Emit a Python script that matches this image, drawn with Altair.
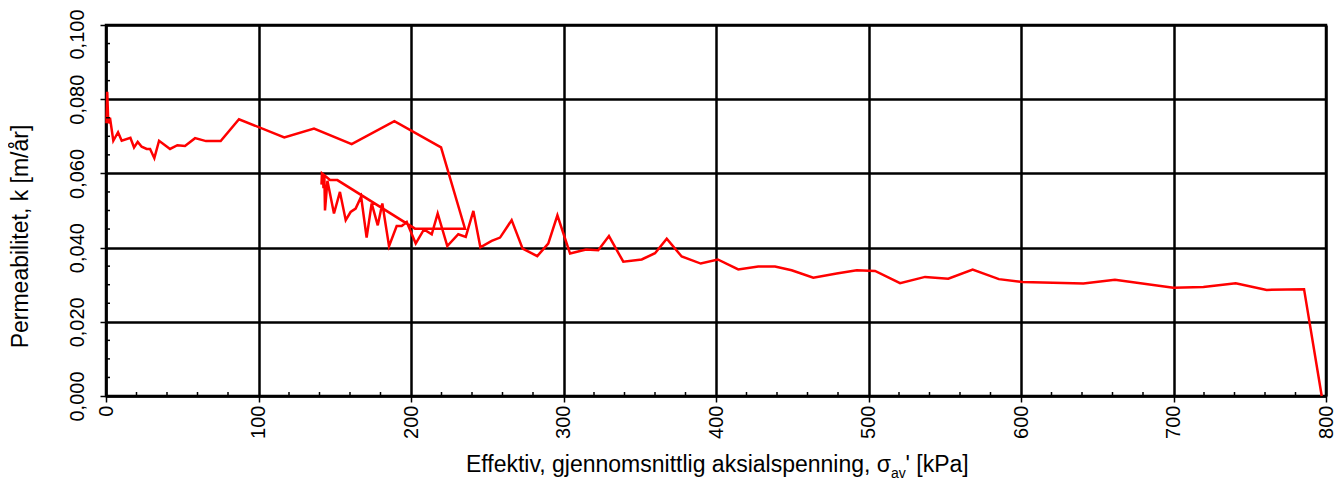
import altair as alt
import pandas as pd

# Effective mean axial stress [kPa] and permeability k [m/år], in measurement order
stress = [0.3, 0.8, 1.5, 2.6, 4.8, 7.9, 10.3, 16.0, 18.4, 20.8, 23.4, 26.7, 28.9, 31.7,
          34.8, 42.0, 46.8, 51.8, 58.4, 65.6, 75.2, 87.2, 116.9, 136.4, 161.1, 189.1,
          219.7, 235.4, 202.6, 151.7, 146.9, 141.6, 141.3, 142.2, 142.6, 143.2, 143.6,
          145.2, 149.5, 153.4, 157.2, 160.4, 163.7, 167.3, 170.9, 174.2, 178.2, 181.2,
          185.6, 190.6, 193.9, 197.2, 203.1, 208.5, 213.6, 217.5, 223.8, 231.0, 235.9,
          240.9, 245.5, 252.9, 258.4, 266.0, 273.2, 282.8, 290.0, 296.0, 304.3, 314.8,
          322.8, 329.8, 339.2, 351.3, 360.0, 367.7, 377.5, 390.0, 401.2, 414.6, 427.7,
          438.7, 449.6, 463.8, 479.1, 492.3, 504.3, 520.7, 537.1, 552.3, 568.3, 585.5,
          601.0, 640.9, 661.6, 699.9, 719.6, 740.8, 761.1, 785.6, 797.2]
perm = [0.0735, 0.0820, 0.0735, 0.0750, 0.0688, 0.0711, 0.0688, 0.0696, 0.0670, 0.0685,
        0.0672, 0.0666, 0.0666, 0.0641, 0.0688, 0.0666, 0.0676, 0.0674, 0.0695, 0.0687,
        0.0687, 0.0746, 0.0697, 0.0721, 0.0679, 0.0741, 0.0670, 0.0451, 0.0451, 0.0582,
        0.0582, 0.0600, 0.0570, 0.0600, 0.0560, 0.0590, 0.0500, 0.0580, 0.0492, 0.0550,
        0.0474, 0.0496, 0.0505, 0.0537, 0.0427, 0.0519, 0.0460, 0.0519, 0.0404, 0.0458,
        0.0458, 0.0469, 0.0411, 0.0449, 0.0436, 0.0492, 0.0404, 0.0436, 0.0429, 0.0499,
        0.0401, 0.0418, 0.0427, 0.0474, 0.0397, 0.0377, 0.0411, 0.0487, 0.0384, 0.0395,
        0.0393, 0.0431, 0.0362, 0.0368, 0.0385, 0.0424, 0.0376, 0.0357, 0.0368, 0.0341,
        0.0349, 0.0349, 0.0339, 0.0319, 0.0330, 0.0339, 0.0337, 0.0304, 0.0321, 0.0316,
        0.0341, 0.0315, 0.0307, 0.0303, 0.0313, 0.0292, 0.0294, 0.0304, 0.0286, 0.0288,
        0.0000]

x_major = [0, 100, 200, 300, 400, 500, 600, 700, 800]
y_major = [0.0, 0.02, 0.04, 0.06, 0.08, 0.10]
x_minor = [20, 40, 60, 80, 120, 140, 160, 180, 220, 240, 260, 280, 320, 340, 360, 380,
           420, 440, 460, 480, 520, 540, 560, 580, 620, 640, 660, 680, 720, 740, 760, 780]
y_minor = [0.005, 0.01, 0.015, 0.025, 0.03, 0.035, 0.045, 0.05, 0.055, 0.065, 0.07,
           0.075, 0.085, 0.09, 0.095]

y_title = "Permeabilitet, k [m/år]"
x_title_main = "Effektiv, gjennomsnittlig aksialspenning, σ"
x_title_sub = "av"
x_title_end = "' [kPa]"

W, H = 1220, 371
FONT = "Arial, Liberation Sans, sans-serif"

df = pd.DataFrame({"s": stress, "k": perm, "i": list(range(len(stress)))})

xs = alt.Scale(domain=[0, 800], nice=False, zero=False)
ys = alt.Scale(domain=[0, 0.1], nice=False, zero=False)

x_axis = alt.Axis(values=x_major, title=None, grid=True, gridColor="black", gridWidth=2.5,
                  gridOpacity=1, domainColor="black", domainWidth=2, tickColor="black",
                  tickWidth=1.5, tickSize=6, labelAngle=270, labelAlign="right",
                  labelBaseline="middle", labelFont=FONT, labelFontSize=20,
                  labelColor="black", labelPadding=3, labelFlush=False, labelOverlap=False,
                  labelBound=False)
y_axis = alt.Axis(values=y_major, title=y_title, grid=True, gridColor="black", gridWidth=2.5,
                  gridOpacity=1, domainColor="black", domainWidth=2, tickColor="black",
                  tickWidth=1.5, tickSize=6, labelAngle=270, labelAlign="center",
                  labelBaseline="bottom", labelFont=FONT, labelFontSize=20,
                  labelColor="black", labelPadding=13, labelFlush=False, labelOverlap=False,
                  labelBound=False,
                  labelOffset=alt.condition("datum.value > 0.09", alt.value(9), alt.value(0)),
                  labelExpr="replace(format(datum.value, '.3f'), '.', ',')",
                  titleFont=FONT, titleFontSize=23, titleFontWeight="normal",
                  titleColor="black", titleX=-79, titleY=211, titleAlign="center",
                  titleBaseline="alphabetic", titleAngle=270)

line = alt.Chart(df).mark_line(color="#ff0000", strokeWidth=2.5).encode(
    x=alt.X("s:Q", scale=xs, axis=x_axis),
    y=alt.Y("k:Q", scale=ys, axis=y_axis),
    order="i:Q",
)

xminor = alt.Chart(pd.DataFrame({"s": x_minor})).mark_rule(color="black", strokeWidth=1.5).encode(
    x=alt.X("s:Q", scale=xs, axis=x_axis),
    y=alt.value(H - 4),
    y2=alt.value(H),
)
yminor = alt.Chart(pd.DataFrame({"k": y_minor})).mark_rule(color="black", strokeWidth=1.5).encode(
    y=alt.Y("k:Q", scale=ys, axis=y_axis),
    x=alt.value(0),
    x2=alt.value(4),
)

one = pd.DataFrame({"d": [0]})
t1 = alt.Chart(one).mark_text(font=FONT, fontSize=23, color="black", align="right",
                              baseline="alphabetic").encode(
    x=alt.value(785), y=alt.value(446.7), text=alt.value(x_title_main))
t2 = alt.Chart(one).mark_text(font=FONT, fontSize=14, color="black", align="left",
                              baseline="alphabetic").encode(
    x=alt.value(785), y=alt.value(453), text=alt.value(x_title_sub))
t3 = alt.Chart(one).mark_text(font=FONT, fontSize=23, color="black", align="left",
                              baseline="alphabetic").encode(
    x=alt.value(799.5), y=alt.value(446.7), text=alt.value(x_title_end))

chart = alt.layer(line, xminor, yminor, t1, t2, t3).properties(
    width=W, height=H,
    background="white",
    autosize=alt.AutoSizeParams(type="none"),
    padding={"left": 98, "top": 17, "right": 9, "bottom": 88},
).configure_view(stroke="black", strokeWidth=2.5)

chart.save("out.html", embed_options={"renderer": "svg", "actions": False})
